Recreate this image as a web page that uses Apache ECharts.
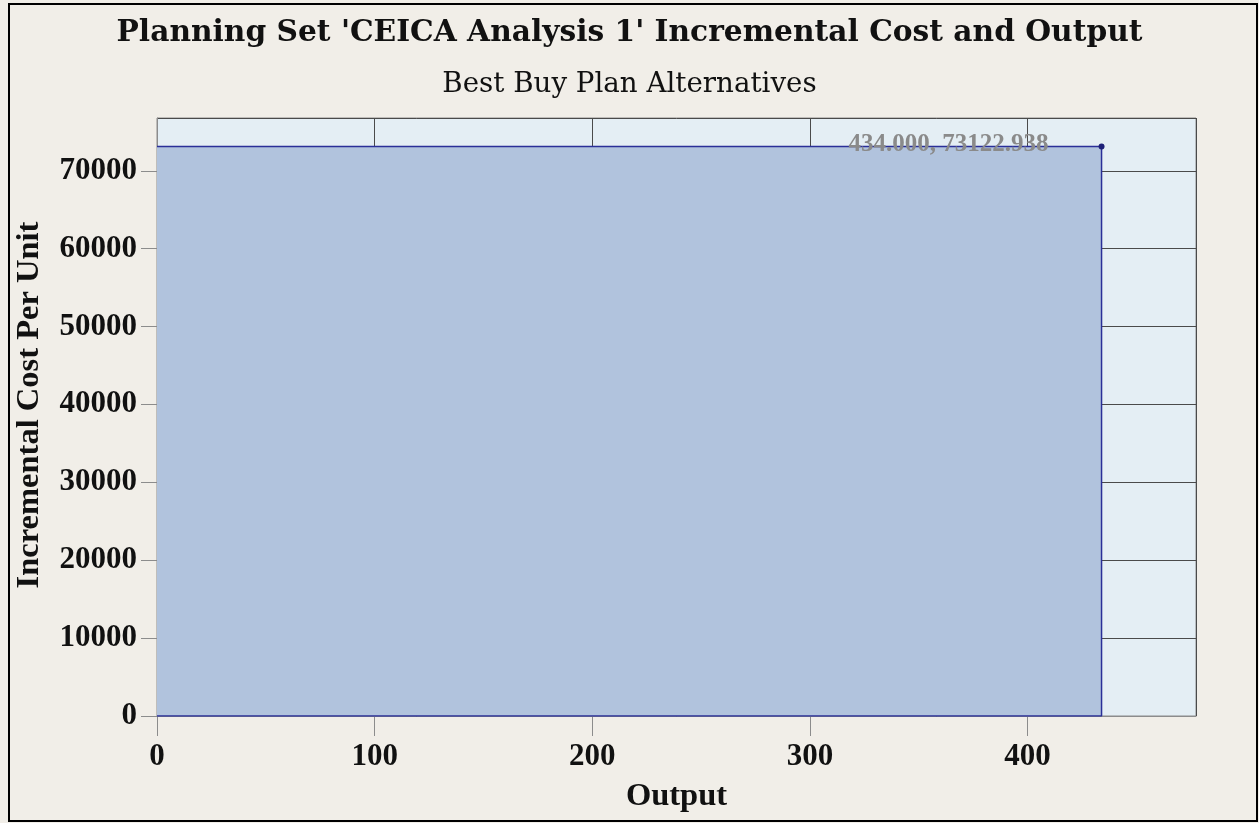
<!DOCTYPE html>
<html>
<head>
<meta charset="utf-8">
<script src="https://cdn.jsdelivr.net/npm/echarts@6/dist/echarts.min.js"></script>
<style>
  html, body { margin: 0; padding: 0; background: #f1eee8; }
  #chart { width: 1259px; height: 823px; }
  #frame { position: absolute; left: 8px; top: 3px; width: 1246px; height: 815px; border: 2px solid #000; pointer-events: none; }
</style>
</head>
<body>
<div id="chart"></div>
<div id="frame"></div>
<script>
// Data
const outputValues = [0, 434, 434, 0];
const costValues = [73122.938, 73122.938, 0, 0];
const labelIndex = 1;
const xMaxValue = 434 * 1.1;
const yMaxValue = 73122.938 * 1.05;
const titleText = "Planning Set 'CEICA Analysis 1' Incremental Cost and Output";
const subtitleText = 'Best Buy Plan Alternatives';
const xAxisName = 'Output';
const yAxisName = 'Incremental Cost Per Unit';

const serif = '"Liberation Serif", "DejaVu Serif", serif';
const wideSerif = '"DejaVu Serif", "Liberation Serif", serif';

const seriesData = outputValues.map((x, i) => {
  const item = { value: [x, costValues[i]] };
  if (i === labelIndex) {
    item.symbolSize = 6;
    item.label = {
      show: true,
      position: 'left',
      distance: 50,
      offset: [0, -2],
      formatter: () => x.toFixed(3) + ', ' + costValues[i].toFixed(3),
      color: '#8a8a8a',
      fontFamily: serif,
      fontWeight: 'bold',
      fontSize: 25
    };
  } else {
    item.symbolSize = 0;
  }
  return item;
});

const chart = echarts.init(document.getElementById('chart'));
chart.setOption({
  backgroundColor: '#f1eee8',
  animation: false,
  title: [
    { text: titleText, left: 'center', top: 13,
      textStyle: { fontFamily: wideSerif, fontWeight: 'bold', fontSize: 29.7, color: '#111' } },
    { text: subtitleText, left: 'center', top: 66, padding: [5, 5, 5, 16],
      textStyle: { fontFamily: wideSerif, fontWeight: 'normal', fontSize: 27.7, color: '#111' } }
  ],
  grid: { left: 157, right: 63, top: 118, bottom: 107, show: true,
          backgroundColor: '#e4eef4', borderColor: '#8c8c8c', borderWidth: 1 },
  xAxis: {
    type: 'value', min: 0, max: xMaxValue, interval: 100,
    name: xAxisName, nameLocation: 'middle', nameGap: 64,
    nameTextStyle: { fontFamily: serif, fontWeight: 'bold', fontSize: 32.5, color: '#111' },
    axisLine: { show: true, lineStyle: { color: '#8c8c8c' } },
    axisTick: { show: true, length: 20, lineStyle: { color: '#8c8c8c' } },
    axisLabel: { margin: 25, showMaxLabel: false, fontFamily: serif, fontWeight: 'bold', fontSize: 31, color: '#111' },
    splitLine: { show: true, lineStyle: { color: '#4a4a4a', width: 1 } }
  },
  yAxis: {
    type: 'value', min: 0, max: yMaxValue, interval: 10000,
    name: yAxisName, nameLocation: 'middle', nameGap: 111,
    nameTextStyle: { fontFamily: serif, fontWeight: 'bold', fontSize: 32.5, color: '#111', padding: [0, 0, 0, 24] },
    axisLine: { show: true, lineStyle: { color: '#8c8c8c' } },
    axisTick: { show: true, length: 16, lineStyle: { color: '#8c8c8c' } },
    axisLabel: { margin: 20, showMaxLabel: false, formatter: v => String(v),
                 fontFamily: serif, fontWeight: 'bold', fontSize: 31, color: '#111' },
    splitLine: { show: true, lineStyle: { color: '#4a4a4a', width: 1 } }
  },
  series: [{
    type: 'line',
    data: seriesData,
    symbol: 'circle',
    showSymbol: true,
    itemStyle: { color: '#1e2178' },
    lineStyle: { color: '#2a2f98', width: 1.5 },
    areaStyle: { color: '#b1c3dd', opacity: 1 },
    z: 3
  }]
});
</script>
</body>
</html>
